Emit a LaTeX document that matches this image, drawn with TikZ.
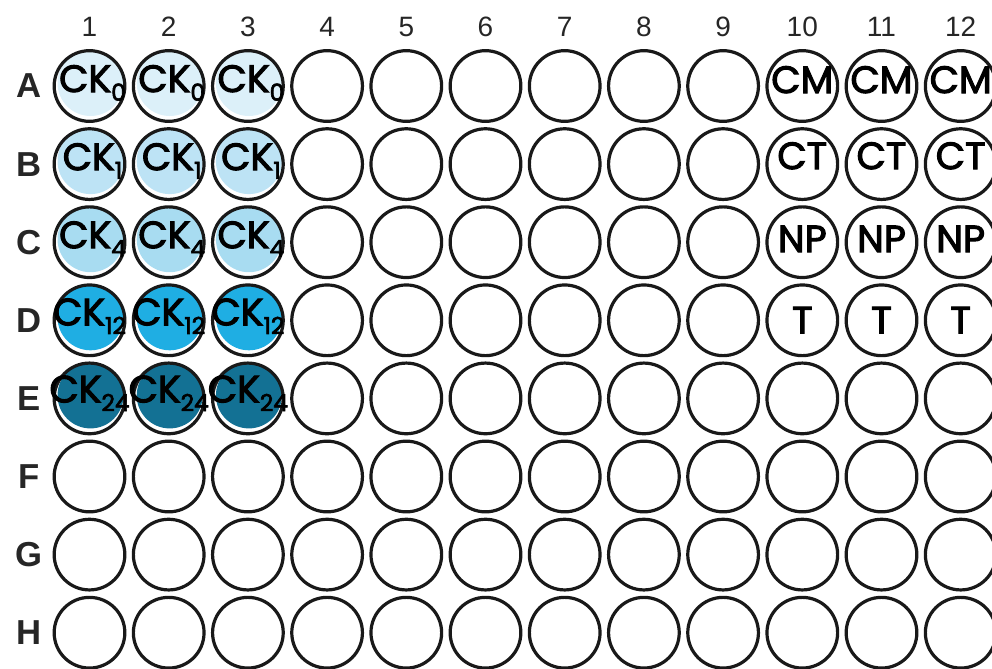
\documentclass[tikz,border=0pt]{standalone}
\usepackage{fontspec}
\setsansfont{Liberation Sans}
\newfontfamily\wellfont[FakeBold=2.8]{Poppins}
\usetikzlibrary{calc}

\definecolor{inkgray}{HTML}{262626}
\definecolor{ckzero}{HTML}{DCF0F9}
\definecolor{ckone}{HTML}{BDE3F5}
\definecolor{ckfour}{HTML}{A8DCF1}
\definecolor{cktwelve}{HTML}{1FAEE3}
\definecolor{cktwentyfour}{HTML}{137194}

% lowered subscript for the sample labels
\newcommand{\wsub}[1]{{\fontsize{17.5pt}{17.5pt}\selectfont\raisebox{-6.5pt}{#1}}}

\begin{document}
\begin{tikzpicture}[
  x=0.75pt,y=-0.75pt,
  collabel/.style={font=\sffamily\fontsize{21pt}{21pt}\selectfont,text=inkgray,inner sep=0pt},
  rowlabel/.style={font=\sffamily\bfseries\fontsize{26pt}{26pt}\selectfont,text=inkgray,inner sep=0pt},
  well/.style={draw=black!90,line width=2.4pt,circle,minimum size=53pt,inner sep=0pt},
  welltext/.style={font=\wellfont\fontsize{28.5pt}{28.5pt}\selectfont,inner sep=0pt,anchor=base},
]
\useasboundingbox (0,0) rectangle (992,668);

%% =============================================
%% Column numbers and row letters
%% =============================================
\foreach \c in {1,...,12}
  \node[collabel] (col\c) at ({89.5+(\c-1)*79.2},27) {\c};
\foreach \r [count=\i] in {A,B,C,D,E,F,G,H}
  \node[rowlabel] (row\r) at (29,{86+(\i-1)*78.1}) {\r};

%% =============================================
%% Well centres
%% =============================================
\foreach \r [count=\i] in {A,B,C,D,E,F,G,H}
  \foreach \c in {1,...,12}
    \coordinate (\r\c) at ({89.5+(\c-1)*79.2},{86+(\i-1)*78.1});

% sample fills (slightly off centre, as in the plate drawing)
\foreach \r/\col in {A/ckzero,B/ckone,C/ckfour,D/cktwelve,E/cktwentyfour}
  \foreach \c in {1,2,3}
    \fill[\col] ($(\r\c)+(1,-3)$) circle (24.75pt);

%% =============================================
%% Wells
%% =============================================
\foreach \r in {A,B,C,D,E,F,G,H}
  \foreach \c in {1,...,12}
    \node[well] (w\r\c) at (\r\c) {};

%% =============================================
%% Well labels
%% =============================================
\foreach \c in {1,2,3} {
  \node[welltext] (lA\c) at ($(A\c)+(3,6)$) {CK\wsub{0}};
  \node[welltext] (lB\c) at ($(B\c)+(3,6)$) {CK\wsub{1}};
  \node[welltext] (lC\c) at ($(C\c)+(3,6)$) {CK\wsub{4}};
  \node[welltext] (lD\c) at ($(D\c)+(0,5)$) {CK\wsub{12}};
  \node[welltext] (lE\c) at ($(E\c)+(0,4)$) {CK\wsub{24}};
}
\foreach \c in {10,11,12} {
  \node[welltext] (lA\c) at ($(A\c)+(0,7)$) {CM};
  \node[welltext] (lB\c) at ($(B\c)+(0,5)$) {CT};
  \node[welltext] (lC\c) at ($(C\c)+(0,10)$) {NP};
  \node[welltext] (lD\c) at ($(D\c)+(0,13)$) {T};
}

\end{tikzpicture}
\end{document}
